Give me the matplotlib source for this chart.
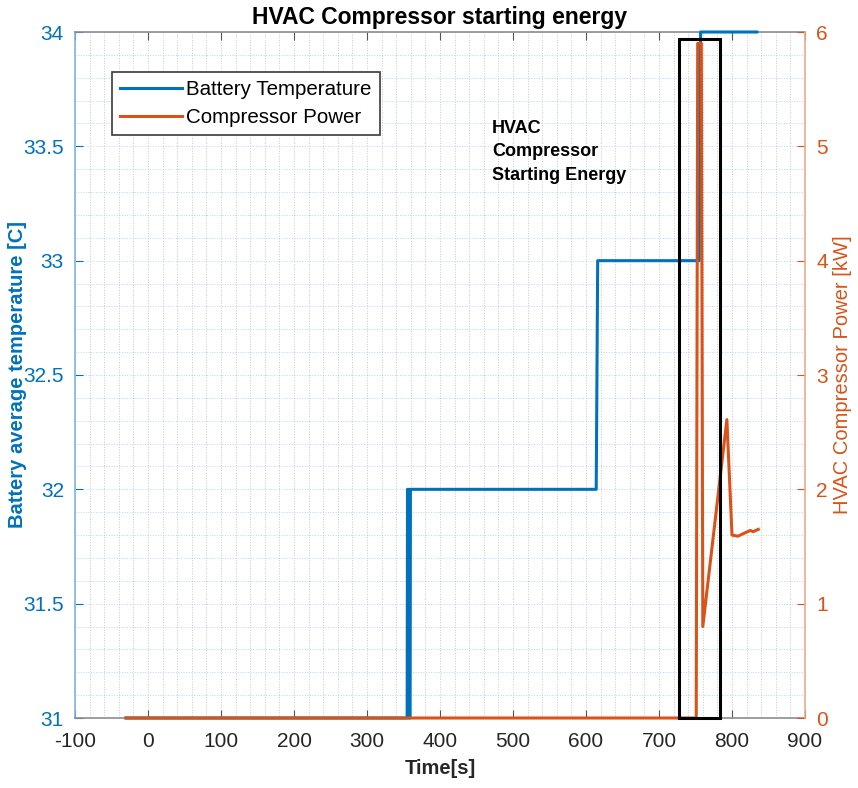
import matplotlib.pyplot as plt
import matplotlib.patches as patches
from matplotlib.ticker import MultipleLocator, FormatStrFormatter

plt.rcParams['font.family'] = ['Liberation Sans', 'DejaVu Sans']
plt.rcParams['axes.unicode_minus'] = False

# battery temperature trace (time [s], temperature [C])
temp_time = [-30, 355, 355.5, 357, 357.5, 359, 359.5, 361, 614, 616, 755, 757, 834]
temp_value = [31, 31, 32, 32, 31, 31, 32, 32, 32, 33, 33, 34, 34]

# compressor power trace (time [s], power [kW])
power_time = [-30, 751, 753, 758, 760, 793, 800, 808, 818, 825, 829, 836]
power_value = [0, 0, 5.9, 5.9, 0.8, 2.61, 1.60, 1.59, 1.62, 1.64, 1.63, 1.65]

# highlighted region (time span, temperature span)
box_time = [727, 784]
box_temp = [31, 33.97]

blue = '#0072BD'
orange = '#D95319'
grey = '#262626'

fig = plt.figure(figsize=(8.58, 7.88), dpi=100)
ax = fig.add_axes([75/858, 70/788, 730/858, 686/788])
ax2 = ax.twinx()

ax.plot(temp_time, temp_value, color=blue, lw=2.2, label='Battery Temperature',
        solid_joinstyle='round', zorder=3, clip_on=False)
ax2.plot(power_time, power_value, color=orange, lw=2.2, label='Compressor Power',
         solid_joinstyle='round', zorder=3, clip_on=False)

ax.set_xlim(-100, 900)
ax.set_ylim(31, 34)
ax2.set_ylim(0, 6)
ax.xaxis.set_major_locator(MultipleLocator(100))
ax.xaxis.set_minor_locator(MultipleLocator(20))
ax.yaxis.set_major_locator(MultipleLocator(0.5))
ax.yaxis.set_minor_locator(MultipleLocator(0.1))
ax2.yaxis.set_major_locator(MultipleLocator(1))
ax.xaxis.set_major_formatter(FormatStrFormatter('%g'))
ax.yaxis.set_major_formatter(FormatStrFormatter('%g'))
ax2.yaxis.set_major_formatter(FormatStrFormatter('%g'))

ax.set_axisbelow(True)
ax.grid(True, which='both', axis='x', color='#b0b0b0', ls=':', lw=0.7, alpha=0.7)
ax.grid(True, which='both', axis='y', color='#a8cdea', ls=':', lw=0.7, alpha=0.8)

ax.tick_params(axis='x', which='major', direction='in', length=6, top=True,
               labelsize=15, labelcolor=grey, color='#555555', pad=10)
ax.tick_params(axis='x', which='minor', length=0)
ax.tick_params(axis='y', which='major', direction='in', length=6,
               labelsize=15, labelcolor=blue, color=blue, pad=8)
ax.tick_params(axis='y', which='minor', length=0)
ax2.tick_params(axis='y', which='major', direction='in', length=6,
                labelsize=15, labelcolor=orange, color=orange, pad=8)

ax.spines['top'].set_color('#8c8c8c')
ax.spines['bottom'].set_color('#8c8c8c')
ax.spines['left'].set_color('#7fb5e0')
ax.spines['right'].set_visible(False)
ax2.spines['left'].set_visible(False)
ax2.spines['top'].set_visible(False)
ax2.spines['bottom'].set_visible(False)
ax2.spines['right'].set_color('#eda98c')
for a in (ax, ax2):
    for s in a.spines.values():
        s.set_linewidth(1.2)

ax.set_xlabel('Time[s]', fontsize=14.5, fontweight='bold', color=grey, labelpad=6)
ax.set_ylabel('Battery average temperature [C]', fontsize=14.5, fontweight='bold',
              color=blue)
ax.yaxis.set_label_coords(-0.079, 0.5)
ax.yaxis.label.set_va('center')
ax2.set_ylabel('HVAC Compressor Power [kW]', fontsize=14.5, color=orange)
ax2.yaxis.set_label_coords(1.052, 0.5)
ax2.yaxis.label.set_va('center')
ax.set_title('HVAC Compressor starting energy', fontsize=16.5, fontweight='bold',
             color='black', pad=6)

# rectangle drawn on the top axes, using the temperature scale
rect = patches.Rectangle((box_time[0], box_temp[0]), box_time[1] - box_time[0],
                         box_temp[1] - box_temp[0], fill=False, ec='black', lw=2.2,
                         transform=ax.transData, zorder=5, clip_on=False)
ax2.add_patch(rect)

ax2.text(0.571, 0.872, 'HVAC\nCompressor\nStarting Energy', transform=ax.transAxes,
         fontsize=13, fontweight='bold', color='black', va='top', ha='left',
         linespacing=1.5)

h1, l1 = ax.get_legend_handles_labels()
h2, l2 = ax2.get_legend_handles_labels()
leg = ax2.legend(h1 + h2, l1 + l2, loc='upper left', bbox_to_anchor=(0.051, 0.942),
                 borderaxespad=0, fontsize=14.8, fancybox=False, framealpha=1,
                 edgecolor='#3a3a3a', handlelength=3, handletextpad=0.2,
                 borderpad=0.4, labelspacing=0.45)
leg.get_frame().set_linewidth(1.2)

plt.savefig('out.png', dpi=100)
